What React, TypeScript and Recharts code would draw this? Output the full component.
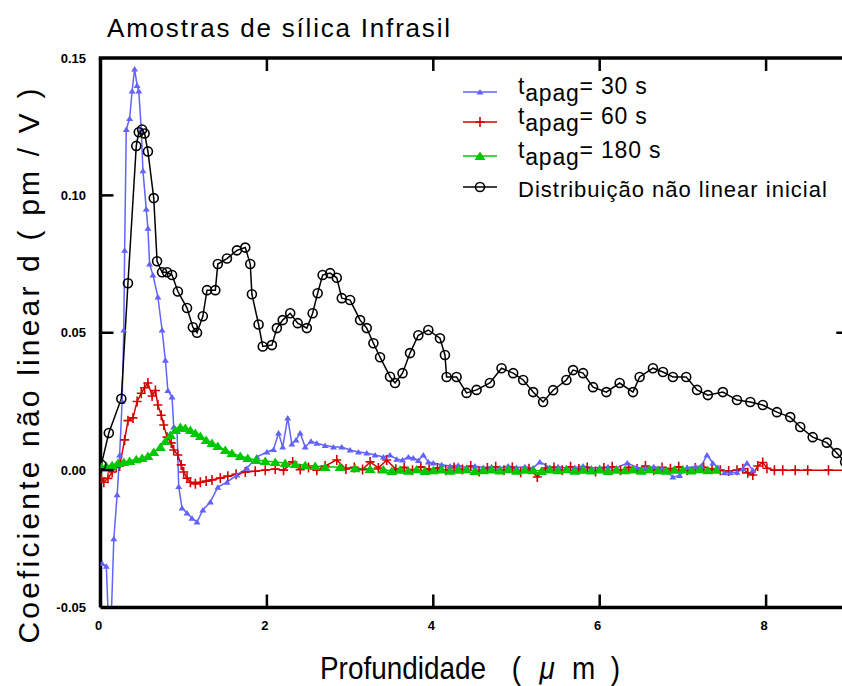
import React from 'react';
import { LineChart, Line, XAxis, YAxis } from 'recharts';

// t_apag = 30 s
const depth30 = [
  0.02, 0.07, 0.09, 0.13, 0.16, 0.2, 0.23, 0.26, 0.28, 0.29, 0.31, 0.35, 0.38, 0.41, 0.44, 0.46, 0.49, 0.51,
  0.55, 0.57, 0.59, 0.63, 0.69, 0.74, 0.78, 0.81, 0.86, 0.88, 0.92, 0.94, 0.98, 1.04, 1.1, 1.16, 1.23, 1.32,
  1.41, 1.52, 1.64, 1.76, 1.88, 2.0, 2.08, 2.14, 2.19, 2.25, 2.3, 2.35, 2.4, 2.46, 2.53, 2.6, 2.7, 2.8, 2.9,
  3.0, 3.1, 3.2, 3.3, 3.4, 3.48, 3.56, 3.63, 3.7, 3.76, 3.82, 3.88, 3.94, 4.0, 4.1, 4.2, 4.3, 4.4, 4.5, 4.6,
  4.7, 4.8, 4.9, 5.0, 5.1, 5.2, 5.28, 5.4, 5.5, 5.6, 5.7, 5.8, 5.9, 6.0, 6.1, 6.2, 6.33, 6.45, 6.55, 6.65,
  6.75, 6.88, 6.96, 7.05, 7.15, 7.22, 7.29, 7.36, 7.42, 7.5, 7.57, 7.65, 7.72, 7.77, 7.84,
];
const coef30 = [
  -0.034, -0.035, -0.051, -0.053, -0.025, -0.009, 0.0055, 0.025, 0.051, 0.08, 0.124, 0.128, 0.138, 0.146, 0.14,
  0.138, 0.124, 0.109, 0.095, 0.088, 0.075, 0.071, 0.063, 0.051, 0.04, 0.029, 0.0266, 0.0157, 0.0146, -0.006,
  -0.0138, -0.0156, -0.0175, -0.0189, -0.0145, -0.0116, -0.0062, -0.0044, -0.0018, 0.0007, 0.0048, 0.0066,
  0.0075, 0.0135, 0.0084, 0.019, 0.0095, 0.011, 0.0135, 0.0084, 0.0105, 0.0098, 0.009, 0.0084, 0.0084, 0.0073,
  0.0066, 0.0062, 0.0055, 0.0048, 0.0055, 0.004, 0.0037, 0.0048, 0.0044, 0.0035, 0.0055, 0.003, 0.0026, 0.002,
  0.0015, 0.0018, 0.001, 0.0015, 0.001, 0.0012, 0.0008, 0.0015, 0.001, 0.0012, 0.0008, 0.003, 0.001, 0.0012,
  0.0008, 0.001, 0.0015, 0.0008, 0.001, 0.0012, 0.0008, 0.0026, 0.001, 0.0008, 0.0012, 0.0008, -0.0025, -0.002,
  0.001, 0.0012, 0.0015, 0.0055, 0.0026, 0.001, -0.001, -0.001, -0.0008, 0.0005, 0.0026, 0.0,
];

// t_apag = 60 s
const depth60 = [
  0.01, 0.04, 0.09, 0.14, 0.19, 0.23, 0.29, 0.33, 0.39, 0.44, 0.49, 0.53, 0.57, 0.62, 0.66, 0.69, 0.73, 0.76,
  0.8, 0.85, 0.88, 0.93, 0.97, 1.0, 1.04, 1.08, 1.14, 1.2, 1.27, 1.34, 1.44, 1.53, 1.63, 1.74, 1.86, 1.98, 2.1,
  2.2, 2.31, 2.4, 2.5, 2.6, 2.7, 2.84, 2.95, 3.05, 3.15, 3.24, 3.34, 3.44, 3.55, 3.65, 3.75, 3.85, 3.95, 4.05,
  4.15, 4.25, 4.35, 4.45, 4.55, 4.65, 4.75, 4.85, 4.95, 5.05, 5.15, 5.25, 5.35, 5.45, 5.55, 5.65, 5.75, 5.85,
  5.95, 6.05, 6.15, 6.25, 6.35, 6.45, 6.55, 6.65, 6.75, 6.85, 6.95, 7.05, 7.15, 7.25, 7.35, 7.45, 7.55, 7.65,
  7.72, 7.78, 7.84, 7.9, 7.96, 8.01, 8.1, 8.2, 8.35, 8.5, 8.75, 9.0,
];
const coef60 = [
  -0.003, -0.0044, -0.003, -0.0007, 0.0011, 0.0015, 0.011, 0.018, 0.019, 0.025, 0.028, 0.03, 0.0317, 0.027,
  0.029, 0.0237, 0.02, 0.0164, 0.012, 0.0099, 0.0073, 0.0055, 0.0019, -0.0007, -0.0029, -0.0044, -0.005,
  -0.0044, -0.004, -0.0036, -0.0029, -0.0022, -0.0015, -0.0007, -0.0004, 0.0, 0.0004, 0.0, 0.003, 0.0002,
  0.001, 0.0, 0.0015, 0.0037, 0.0004, 0.001, 0.0002, 0.003, 0.0008, 0.0037, 0.0003, 0.001, 0.0, 0.0012, 0.0003,
  0.0008, 0.0, 0.001, 0.0002, 0.0015, -0.0005, 0.0008, 0.0012, 0.0, 0.001, -0.0008, 0.0005, -0.0025, 0.0008,
  0.001, 0.0, 0.0012, 0.0004, 0.001, -0.0005, 0.0008, 0.0012, 0.0, 0.001, 0.0004, 0.0015, 0.0, 0.001, 0.0005,
  0.0012, 0.0, 0.0008, 0.001, 0.0004, 0.0, -0.0003, 0.0, 0.0005, -0.001, -0.0018, 0.0015, 0.0028, 0.0007, 0.0,
  0.0, 0.0, 0.0, 0.0, 0.0,
];

// t_apag = 180 s
const depth180 = [
  0.01, 0.07, 0.14, 0.21, 0.28, 0.35, 0.43, 0.5, 0.57, 0.64, 0.72, 0.78, 0.84, 0.9, 0.96, 1.02, 1.08, 1.14,
  1.2, 1.27, 1.34, 1.41, 1.5, 1.58, 1.68, 1.77, 1.87, 1.98, 2.1, 2.22, 2.34, 2.46, 2.58, 2.7, 2.88, 3.06, 3.24,
  3.4, 3.5, 3.6, 3.7, 3.8, 3.9, 4.0, 4.1, 4.2, 4.3, 4.4, 4.5, 4.6, 4.7, 4.8, 4.9, 5.0, 5.1, 5.2, 5.3, 5.4, 5.5,
  5.6, 5.7, 5.8, 5.9, 6.0, 6.1, 6.2, 6.3, 6.4, 6.5, 6.6, 6.7, 6.8, 6.9, 7.0, 7.1, 7.2, 7.3, 7.4,
];
const coef180 = [
  0.0011, 0.0015, 0.0018, 0.0026, 0.003, 0.0033, 0.004, 0.0044, 0.0051, 0.0066, 0.0084, 0.0106, 0.0128, 0.0146,
  0.0157, 0.0153, 0.0146, 0.0135, 0.0124, 0.011, 0.0099, 0.0088, 0.0073, 0.0062, 0.0051, 0.0044, 0.0037,
  0.0033, 0.003, 0.0026, 0.0022, 0.0018, 0.0015, 0.0011, 0.0011, 0.0007, 0.0004, 0.0002, -0.0003, 0.0001,
  -0.0002, 0.0003, -0.0003, 0.0, 0.0002, -0.0002, 0.0001, 0.0003, -0.0003, 0.0, 0.0002, -0.0001, 0.0003,
  -0.0002, 0.0001, 0.0, -0.0003, 0.0002, 0.0, 0.0003, -0.0002, 0.0001, -0.0001, 0.0002, -0.0003, 0.0001, 0.0,
  0.0002, -0.0002, 0.0003, 0.0, -0.0002, 0.0001, 0.0002, -0.0001, 0.0003, 0.0, 0.0001,
];

// distribuição não linear inicial
const depthInit = [
  0.01, 0.1, 0.25, 0.33, 0.43, 0.46, 0.5, 0.53, 0.57, 0.64, 0.68, 0.74, 0.8, 0.86, 0.93, 1.04, 1.11, 1.16,
  1.23, 1.28, 1.38, 1.41, 1.52, 1.64, 1.74, 1.8, 1.82, 1.9, 1.95, 2.06, 2.12, 2.19, 2.28, 2.37, 2.48, 2.55,
  2.61, 2.67, 2.76, 2.84, 2.9, 3.0, 3.12, 3.2, 3.28, 3.36, 3.48, 3.54, 3.63, 3.72, 3.82, 3.94, 4.08, 4.14, 4.16,
  4.28, 4.4, 4.52, 4.68, 4.82, 4.96, 5.08, 5.2, 5.32, 5.44, 5.6, 5.68, 5.8, 5.92, 6.08, 6.24, 6.4, 6.48, 6.64,
  6.76, 6.88, 7.04, 7.17, 7.3, 7.48, 7.65, 7.81, 7.96, 8.13, 8.29, 8.41, 8.56, 8.73, 8.85, 8.95,
];
const coefInit = [
  0.002, 0.0135, 0.026, 0.068, 0.118, 0.123, 0.124, 0.1225, 0.116, 0.099, 0.076, 0.072, 0.072, 0.071, 0.065,
  0.059, 0.052, 0.05, 0.056, 0.0655, 0.0655, 0.075, 0.077, 0.08, 0.081, 0.075, 0.064, 0.053, 0.045, 0.0455,
  0.0517, 0.0546, 0.0571, 0.0535, 0.0517, 0.0571, 0.0644, 0.071, 0.0717, 0.07, 0.0626, 0.0619, 0.0546, 0.0517,
  0.0462, 0.0411, 0.034, 0.0317, 0.0353, 0.0426, 0.0491, 0.051, 0.048, 0.0419, 0.0339, 0.0339, 0.0281, 0.0292,
  0.0317, 0.0371, 0.0353, 0.0328, 0.0284, 0.0248, 0.0291, 0.0328, 0.0364, 0.0353, 0.0302, 0.0284, 0.0317,
  0.0284, 0.0339, 0.0371, 0.0357, 0.0339, 0.0339, 0.0292, 0.0273, 0.0284, 0.0255, 0.0248, 0.0237, 0.0211,
  0.0193, 0.0157, 0.012, 0.01, 0.0062, 0.003,
];

const xTicks = [0, 2, 4, 6, 8];
const yTicks = [-0.05, 0, 0.05, 0.1, 0.15];
const rightTicks = [0.05];

const X_DOMAIN: [number, number] = [0, 9];
const Y_DOMAIN: [number, number] = [-0.05, 0.15];

const FONT = '"Liberation Sans", Arial, Helvetica, sans-serif';

// plot frame edges in px
const PLOT = { left: 100.5, right: 849.3, top: 58, bottom: 607.5 };
const TICK_LEN = 13;

// same linear mapping the chart uses, for the inward frame ticks
const sx = (v: number) => PLOT.left + ((v - X_DOMAIN[0]) / (X_DOMAIN[1] - X_DOMAIN[0])) * (PLOT.right - PLOT.left);
const sy = (v: number) => PLOT.bottom - ((v - Y_DOMAIN[0]) / (Y_DOMAIN[1] - Y_DOMAIN[0])) * (PLOT.bottom - PLOT.top);

type Shape = 'tri' | 'plus' | 'bigtri' | 'ring';

const toPoints = (xs: number[], ys: number[]) => xs.map((x, i) => ({ x, y: ys[i] }));

const series = [
  { id: 's60', name: '60 s', color: '#d40000', shape: 'plus' as Shape, data: toPoints(depth60, coef60) },
  { id: 's30', name: '30 s', color: '#6262ff', shape: 'tri' as Shape, data: toPoints(depth30, coef30) },
  { id: 's180', name: '180 s', color: '#00c800', shape: 'bigtri' as Shape, data: toPoints(depth180, coef180) },
  { id: 'init', name: 'Distribuição não linear inicial', color: '#000000', shape: 'ring' as Shape, data: toPoints(depthInit, coefInit) },
];

// legend order differs from drawing order
const legendOrder = ['s30', 's60', 's180', 'init'];
const legendLineY = [92, 122, 156, 187];

function Marker({ shape, cx, cy, color }: { shape: Shape; cx: number; cy: number; color: string }) {
  if (shape === 'tri') {
    return <path d={`M${cx - 3.5},${cy + 2.5}L${cx},${cy - 3}L${cx + 3.5},${cy + 2.5}Z`} fill={color} />;
  }
  if (shape === 'bigtri') {
    return <path d={`M${cx - 5.5},${cy + 4}L${cx},${cy - 4.5}L${cx + 5.5},${cy + 4}Z`} fill={color} />;
  }
  if (shape === 'plus') {
    return (
      <path d={`M${cx - 4.5},${cy}H${cx + 4.5}M${cx},${cy - 5}V${cy + 5}`} stroke={color} strokeWidth={1.6} fill="none" />
    );
  }
  return <circle cx={cx} cy={cy} r={4.5} stroke={color} strokeWidth={1.6} fill="none" />;
}

const makeDot = (shape: Shape, color: string) => (p: any) => {
  if (p.cx == null || p.cy == null || isNaN(p.cy)) return <g key={p.index} />;
  return (
    <g key={p.index}>
      <Marker shape={shape} cx={p.cx} cy={p.cy} color={color} />
    </g>
  );
};

const axisStroke = { stroke: '#000', strokeWidth: 3.5 };
const tickText = { fill: '#000', fontSize: 13, fontWeight: 'bold' as const, fontFamily: FONT };

const BottomTick = (p: any) => (
  <text x={p.x - 2} y={PLOT.bottom + 22} textAnchor="middle" {...tickText}>
    {p.payload.value}
  </text>
);
const LeftTick = (p: any) => (
  <text x={86} y={p.y + 4.5} textAnchor="end" {...tickText}>
    {Number(p.payload.value).toFixed(2)}
  </text>
);

export default function App() {
  const inner = xTicks.slice(1);
  const innerY = yTicks.slice(1, -1);
  return (
    <div style={{ position: 'fixed', left: 0, top: 0, width: 842, height: 686, overflow: 'hidden', background: '#fff' }}>
      <LineChart width={860} height={686} margin={{ top: PLOT.top, right: 0, bottom: 0, left: 0 }}>
        <XAxis
          xAxisId="b"
          dataKey="x"
          type="number"
          domain={X_DOMAIN}
          ticks={xTicks}
          allowDataOverflow
          height={686 - PLOT.bottom}
          axisLine={axisStroke}
          tickLine={false}
          tick={BottomTick}
        />
        <YAxis
          yAxisId="l"
          type="number"
          domain={Y_DOMAIN}
          ticks={yTicks}
          allowDataOverflow
          width={PLOT.left}
          axisLine={axisStroke}
          tickLine={false}
          tick={LeftTick}
        />
        <YAxis
          yAxisId="r"
          orientation="right"
          type="number"
          domain={Y_DOMAIN}
          allowDataOverflow
          width={860 - PLOT.right}
          axisLine={axisStroke}
          tickLine={false}
          tick={false}
        />
        {series.map((s) => (
          <Line
            key={s.id}
            xAxisId="b"
            yAxisId="l"
            data={s.data}
            dataKey="y"
            name={s.name}
            type="linear"
            stroke={s.color}
            strokeWidth={1.5}
            dot={makeDot(s.shape, s.color)}
            activeDot={false}
            isAnimationActive={false}
          />
        ))}
      </LineChart>

      <svg width={842} height={686} style={{ position: 'absolute', left: 0, top: 0, pointerEvents: 'none' }}>
        {/* top edge of the frame */}
        <line x1={PLOT.left - 1.75} x2={PLOT.right} y1={PLOT.top} y2={PLOT.top} stroke="#000" strokeWidth={3.5} />

        {/* inward ticks on all four sides of the frame */}
        <g stroke="#000" strokeWidth={2.5}>
          {inner.map((t) => (
            <line key={`b${t}`} x1={sx(t)} x2={sx(t)} y1={PLOT.bottom} y2={PLOT.bottom - TICK_LEN} />
          ))}
          {inner.map((t) => (
            <line key={`t${t}`} x1={sx(t)} x2={sx(t)} y1={PLOT.top} y2={PLOT.top + TICK_LEN} />
          ))}
          {innerY.map((t) => (
            <line key={`l${t}`} x1={PLOT.left} x2={PLOT.left + TICK_LEN} y1={sy(t)} y2={sy(t)} />
          ))}
          {rightTicks.map((t) => (
            <line key={`r${t}`} x1={PLOT.right - TICK_LEN} x2={PLOT.right} y1={sy(t)} y2={sy(t)} />
          ))}
        </g>

        <text x={107} y={37} fontFamily={FONT} fontSize={26} letterSpacing={1.8} fill="#000">
          Amostras de sílica Infrasil
        </text>
        <text
          transform="translate(39,366) rotate(-90)"
          textAnchor="middle"
          fontFamily={FONT}
          fontSize={30}
          textLength={555}
          lengthAdjust="spacing"
          fill="#000"
        >
          Coeficiente não linear d ( pm / V )
        </text>
        <g transform="translate(320,679) scale(0.9,1)">
          <text x={0} y={0} fontFamily={FONT} fontSize={31} fill="#000">
            Profundidade
            <tspan x={213}>(</tspan>
            <tspan x={244} fontStyle="italic">μ</tspan>
            <tspan x={280}>m</tspan>
            <tspan x={323}>)</tspan>
          </text>
        </g>

        {legendOrder.map((id, i) => {
          const s = series.find((d) => d.id === id)!;
          const ly = legendLineY[i];
          return (
            <g key={id}>
              <line x1={463} x2={497} y1={ly} y2={ly} stroke={s.color} strokeWidth={1.5} />
              <Marker shape={s.shape} cx={480} cy={ly} color={s.color} />
              {id === 'init' ? (
                <text x={518} y={ly + 10} fontFamily={FONT} fontSize={22} letterSpacing={1} fill="#000">
                  {s.name}
                </text>
              ) : (
                <text x={518} y={ly + 2} fontFamily={FONT} fontSize={23} letterSpacing={0.8} fill="#000">
                  t
                  <tspan dy={7}>apag</tspan>
                  <tspan dy={-7}>= {s.name}</tspan>
                </text>
              )}
            </g>
          );
        })}
      </svg>
    </div>
  );
}
